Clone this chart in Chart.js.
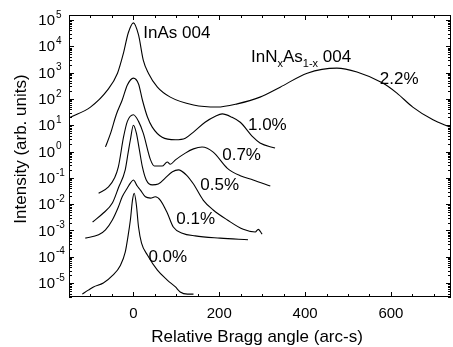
<!DOCTYPE html>
<html>
<head>
<meta charset="utf-8">
<script src="https://cdn.jsdelivr.net/npm/chart.js@4.4.1/dist/chart.umd.min.js"></script>
<style>
  html, body { margin: 0; padding: 0; background: #fff; }
</style>
</head>
<body>
<canvas id="graficaRocking" width="453" height="347"></canvas>
<script>
// curvas de difraccion, un par de arreglos por muestra (angulo en arc-s, intensidad)
const angulo22 = [-147, -100, -60, -37, -23, -12, 0, 12, 23, 35, 56, 86, 140, 195, 242, 295, 342, 405, 474, 521, 581, 614, 651, 698, 737]
const intens22 = [20, 49, 220, 950, 5600, 32000, 78000, 27000, 3000, 950, 280, 117, 59, 49, 65, 117, 280, 950, 1480, 1050, 400, 166, 49, 16, 8.5]

const angulo10 = [-65, -53, -40, -26, -14, 0, 12, 21, 33, 44, 67, 98, 121, 140, 167, 191, 207, 230, 249, 279, 295, 330]
const intens10 = [1.5, 5.0, 25, 91, 340, 620, 370, 91, 20, 8.5, 3.5, 2.8, 3.2, 5.5, 13, 22, 27, 20, 13, 3.5, 2.1, 1.35]

const angulo07 = [-81, -58, -44, -35, -23, -14, 0, 12, 23, 40, 49, 67, 79, 86, 98, 121, 140, 160, 186, 219, 249, 279, 319]
const intens07 = [0.026, 0.045, 0.098, 0.26, 3.5, 14, 25, 14, 5.0, 0.48, 0.28, 0.28, 0.40, 0.33, 0.48, 0.87, 1.26, 1.48, 0.95, 0.23, 0.12, 0.083, 0.049]

const angulo05 = [-95, -70, -49, -35, -19, -12, -7, 0, 7, 14, 21, 30, 44, 58, 74, 91, 105, 123, 140, 163, 186, 219, 256, 284, 291, 300]
const intens05 = [0.0021, 0.0046, 0.011, 0.041, 0.20, 0.95, 2.8, 10, 5.0, 1.15, 0.26, 0.083, 0.054, 0.058, 0.098, 0.17, 0.20, 0.13, 0.058, 0.014, 0.006, 0.0025, 0.0011, 0.00087, 0.0011, 0.00072]

const angulo01 = [-112, -81, -65, -49, -35, -26, -14, -7, 0, 9, 16, 28, 40, 51, 63, 79, 93, 114, 144, 202, 267]
const intens01 = [5.1e-4, 6.8e-4, 1.05e-3, 2.5e-3, 7.8e-3, 0.019, 0.041, 0.063, 0.083, 0.049, 0.035, 0.019, 0.017, 0.019, 0.014, 4.6e-3, 1.35e-3, 7.9e-4, 6.2e-4, 5.1e-4, 4.4e-4]

const angulo00 = [-119, -105, -93, -70, -49, -30, -19, -12, -7, -2, 2, 7, 12, 19, 33, 56, 79, 98, 109, 126, 140]
const intens00 = [3.8e-6, 5.4e-6, 7.1e-6, 1e-5, 1.9e-5, 4.8e-5, 1.5e-4, 6.8e-4, 2.5e-3, 0.0145, 0.026, 9.3e-3, 1.35e-3, 3.3e-4, 1.15e-4, 3.1e-5, 1.3e-5, 7.1e-6, 4.6e-6, 3.8e-6, 3.8e-6]

const muestras = ['2.2%', '1.0%', '0.7%', '0.5%', '0.1%', '0.0%']
// donde va cada etiqueta (angulo, intensidad)
const etiquetaAngulo = [574, 267, 207, 156, 100, 35]
const etiquetaIntens = [370, 6.6, 0.48, 0.035, 1.7e-3, 6.3e-5]

const ticksX = [0, 200, 400, 600]
const decadas = [-5, -4, -3, -2, -1, 0, 1, 2, 3, 4, 5]

const fuente = '"Liberation Sans", Arial, sans-serif'

const armarSerie = (angulos, valores) => angulos.map((a, i) => ({ x: a, y: valores[i] }))

const series = [
    armarSerie(angulo22, intens22),
    armarSerie(angulo10, intens10),
    armarSerie(angulo07, intens07),
    armarSerie(angulo05, intens05),
    armarSerie(angulo01, intens01),
    armarSerie(angulo00, intens00)
]

// marco, ticks hacia adentro y todos los textos
const marcoYTextos = {
    id: 'marcoYTextos',
    afterDraw(chart) {
        const { ctx, chartArea: a, scales: { x, y } } = chart
        ctx.save()
        ctx.strokeStyle = '#000'
        ctx.lineWidth = 1
        ctx.strokeRect(a.left + 0.5, a.top + 0.5, a.right - a.left - 1, a.bottom - a.top - 1)

        ctx.beginPath()
        for (let v = -150; v <= 740; v += 50) {
            const px = Math.round(x.getPixelForValue(v)) + 0.5
            const largo = ticksX.includes(v) ? 5 : 3
            ctx.moveTo(px, a.bottom); ctx.lineTo(px, a.bottom - largo)
            ctx.moveTo(px, a.top); ctx.lineTo(px, a.top + largo)
        }
        for (let e = -6; e <= 5; e++) {
            for (let m = 1; m <= 9; m++) {
                const v = m * Math.pow(10, e)
                if (v < y.min || v > y.max) continue
                const py = Math.round(y.getPixelForValue(v)) + 0.5
                const largo = m === 1 ? 5 : 3
                ctx.moveTo(a.left, py); ctx.lineTo(a.left + largo, py)
                ctx.moveTo(a.right, py); ctx.lineTo(a.right - largo, py)
            }
        }
        ctx.stroke()

        ctx.fillStyle = '#000'
        // etiquetas eje y: 10 con exponente
        decadas.forEach(e => {
            const py = y.getPixelForValue(Math.pow(10, e))
            ctx.font = '15px ' + fuente
            ctx.textAlign = 'right'
            ctx.textBaseline = 'middle'
            ctx.fillText('10', 55, py + 1)
            ctx.font = '10px ' + fuente
            ctx.textAlign = 'left'
            ctx.fillText(String(e).replace('-', '-'), 56, py - 5)
        })
        // etiquetas eje x
        ctx.font = '15px ' + fuente
        ctx.textAlign = 'center'
        ctx.textBaseline = 'alphabetic'
        ticksX.forEach(v => ctx.fillText(String(v), x.getPixelForValue(v), 318))

        // titulos
        ctx.font = '17px ' + fuente
        ctx.fillText('Relative Bragg angle (arc-s)', 257, 342)
        ctx.save()
        ctx.translate(26, 149)
        ctx.rotate(-Math.PI / 2)
        ctx.fillText('Intensity (arb. units)', 0, 0)
        ctx.restore()

        // porcentajes
        ctx.textAlign = 'left'
        muestras.forEach((m, i) => {
            ctx.fillText(m, x.getPixelForValue(etiquetaAngulo[i]), y.getPixelForValue(etiquetaIntens[i]))
        })

        // picos
        ctx.fillText('InAs 004', x.getPixelForValue(23), y.getPixelForValue(2.1e4))
        let px = x.getPixelForValue(274)
        const py = y.getPixelForValue(2.5e3)
        const trozos = [['InN', 17, 0], ['x', 11, 5], ['As', 17, 0], ['1-x', 11, 5], [' 004', 17, 0]]
        trozos.forEach(([t, tam, baja]) => {
            ctx.font = tam + 'px ' + fuente
            ctx.fillText(t, px, py + baja)
            px += ctx.measureText(t).width
        })
        ctx.restore()
    }
}

const canvas = document.getElementById('graficaRocking')
const context = canvas.getContext('2d')

const graficaRocking = new Chart(context, {
    type: 'line',
    data: {
        datasets: series.map((datos, i) => ({
            label: muestras[i],
            data: datos,
            borderColor: '#000',
            borderWidth: 1.1,
            pointRadius: 0,
            fill: false,
            tension: 0.4,
            cubicInterpolationMode: 'monotone'
        }))
    },
    options: {
        responsive: false,
        animation: false,
        layout: { padding: { top: 15, right: 2, left: 0, bottom: 0 } },
        plugins: { legend: { display: false }, tooltip: { enabled: false } },
        scales: {
            x: {
                type: 'linear', min: -150, max: 740,
                ticks: { display: false }, grid: { display: false }, border: { display: false },
                afterFit: s => { s.height = 50 }
            },
            y: {
                type: 'logarithmic', min: 2.95e-6, max: 1.55e5,
                ticks: { display: false }, grid: { display: false }, border: { display: false },
                afterFit: s => { s.width = 69 }
            }
        }
    },
    plugins: [marcoYTextos]
})
</script>
</body>
</html>
